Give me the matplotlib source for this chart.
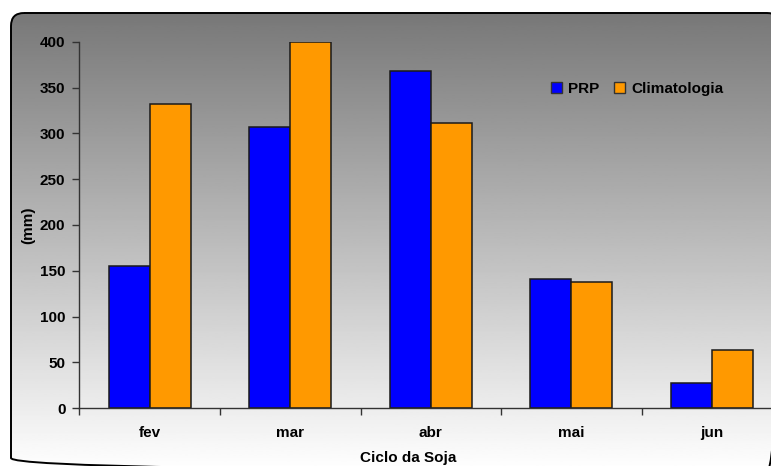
import numpy as np
import matplotlib.pyplot as plt
from matplotlib.patches import FancyBboxPatch, Patch

plt.rcParams['font.family'] = ['Liberation Sans', 'DejaVu Sans']
plt.rcParams['font.weight'] = 'bold'

# dados
meses = ["fev", "mar", "abr", "mai", "jun"]
prp = [155, 307, 368, 141, 28]
climatologia = [332, 400, 311, 138, 64]

W, H = 771, 466
fig = plt.figure(figsize=(W / 100, H / 100), dpi=100)

# fundo com gradiente dentro de moldura arredondada
bg = fig.add_axes([0, 0, 1, 1], zorder=0)
grad = np.linspace(0.47, 1.0, 256).reshape(-1, 1)
img = bg.imshow(grad, cmap="gray", vmin=0, vmax=1, aspect="auto",
                extent=(11, 781, 471, 13), zorder=0)
frame = FancyBboxPatch((11, 13), 769, 458,
                       boxstyle="round,pad=0,rounding_size=13",
                       facecolor="none", edgecolor="black", lw=1.4, zorder=2)
bg.add_patch(frame)
img.set_clip_path(frame)
bg.set_xlim(0, W)
bg.set_ylim(H, 0)
bg.axis("off")

# gráfico de barras
left = 79.3 / W
bottom = (H - 408.3) / H
width = 5 * 140.6 / W
height = (408.3 - 41.7) / H
ax = fig.add_axes([left, bottom, width, height], zorder=1)
ax.patch.set_alpha(0)

x = np.arange(len(meses))
w = 0.292
ax.bar(x - w / 2, prp, w, color="#0000ff", edgecolor="#1a1a1a", lw=1.1,
       label="PRP")
ax.bar(x + w / 2, climatologia, w, color="#ff9900", edgecolor="#1a1a1a",
       lw=1.1, label="Climatologia")

ax.set_xlim(-0.5, len(meses) - 0.5)
ax.set_ylim(0, 400)
ax.set_yticks(np.arange(0, 401, 50))
ax.set_xticks(x)
ax.set_xticklabels(meses)
ax.set_xticks(np.arange(-0.5, len(meses), 1), minor=True)
ax.tick_params(axis="x", which="major", length=0, pad=13, labelsize=11)
ax.tick_params(axis="x", which="minor", length=5, width=1, color="#333333")
ax.tick_params(axis="y", length=5, width=1, color="#333333", pad=5,
               labelsize=11)
for s in ["top", "right"]:
    ax.spines[s].set_visible(False)
for s in ["left", "bottom"]:
    ax.spines[s].set_color("#333333")
    ax.spines[s].set_linewidth(1)

fig.text(28 / W, 1 - 225 / H, "(mm)", rotation=90, ha="center",
         va="center", fontsize=11, fontweight="bold")
fig.text(408 / W, 1 - 458 / H, "Ciclo da Soja", ha="center", va="center",
         fontsize=11, fontweight="bold")

handles = [Patch(facecolor="#0000ff", edgecolor="#333333", label="PRP"),
           Patch(facecolor="#ff9900", edgecolor="#333333",
                 label="Climatologia")]
fig.legend(handles=handles, loc="center left",
           bbox_to_anchor=(551 / W, 1 - 89 / H), ncol=2, frameon=False,
           handlelength=0.7, handleheight=0.7, handletextpad=0.4,
           columnspacing=1.0, borderpad=0, borderaxespad=0,
           prop={"size": 11, "weight": "bold"})

fig.savefig("out.png", dpi=100)
